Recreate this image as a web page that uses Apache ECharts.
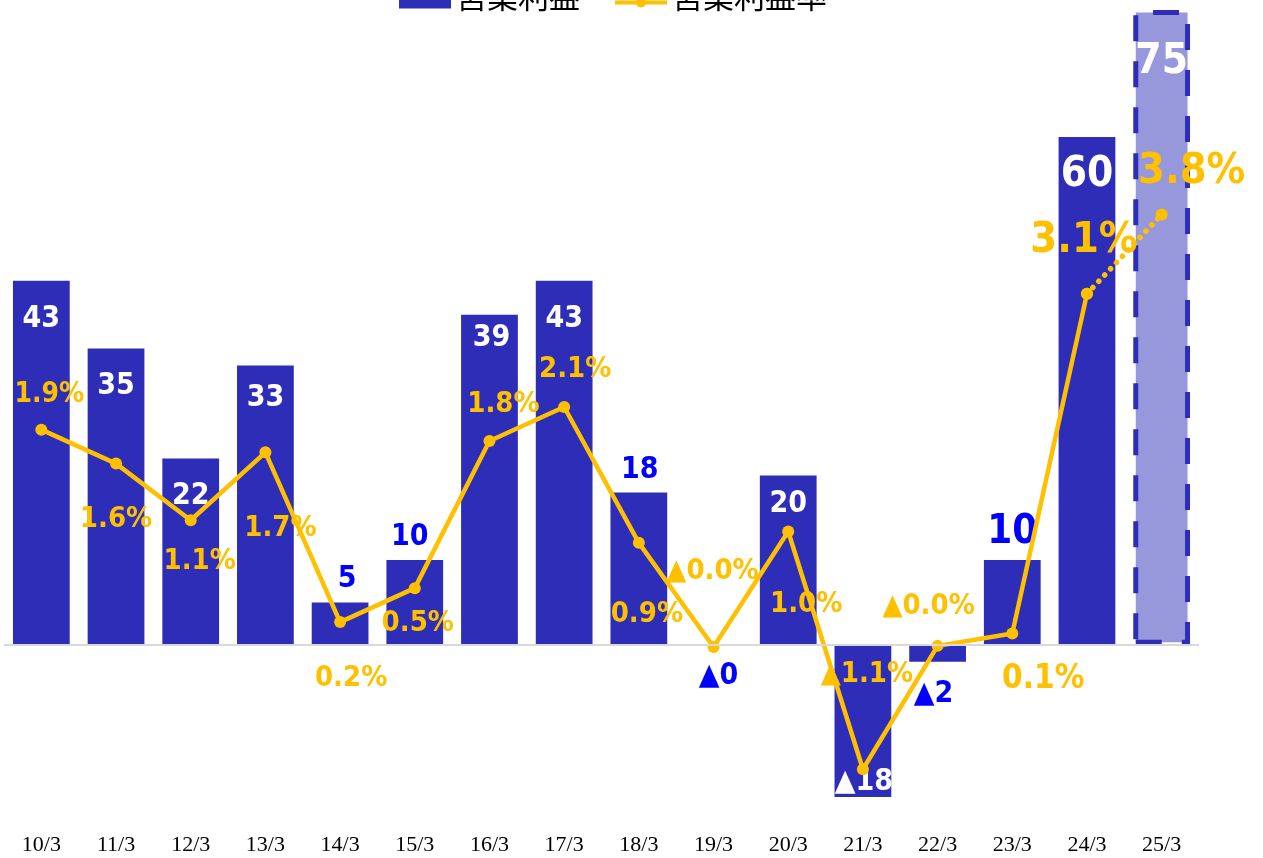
<!DOCTYPE html>
<html><head><meta charset="utf-8">
<script src="https://cdn.jsdelivr.net/npm/echarts@6/dist/echarts.min.js"></script>
<style>html,body{margin:0;padding:0;background:#fff;}#c{width:1263px;height:858px;}</style>
</head><body><div id="c"></div>
<script>
// ---- data ----
const categories = ['10/3','11/3','12/3','13/3','14/3','15/3','16/3','17/3','18/3','19/3','20/3','21/3','22/3','23/3','24/3','25/3'];
const operatingProfit = [43,35,22,33,5,10,39,43,18,-0.1,20,-18,-2,10,60,75];
const operatingMargin = [1.9,1.6,1.1,1.7,0.2,0.5,1.8,2.1,0.9,-0.02,1.0,-1.1,-0.01,0.1,3.1,3.8];
const seriesNames = ['営業利益','営業利益率'];

// ---- styling / label layout (not data) ----
const BAR = '#2E2DB8', BAR_FC = '#9797DC', GOLD = '#FFC000', BLUE = '#0000FF';
const LFONT = '"DejaVu Sans Condensed","DejaVu Sans",sans-serif';
// [position, dx, dy, color, fontSize]
const barLabelLayout = [
  ['insideTop',0,18,'#fff',30],['insideTop',0,18,'#fff',30],['insideTop',0,18,'#fff',30],['insideTop',0,13,'#fff',30],
  ['outside',7,-3,BLUE,30],['outside',-5,-3,BLUE,30],['insideTop',2,4,'#fff',30],['insideTop',0,18,'#fff',30],
  ['outside',1,-2,BLUE,30],['outside',5,11,BLUE,30],['insideTop',0,9,'#fff',30],['insideBottom',1,5,'#fff',30],
  ['outside',-4,13,BLUE,30],['outside',0,-2,BLUE,40],['insideTop',0,12,'#fff',42],['insideTop',0,26,'#fff',42]
];
// [dx, dy, fontSize]
const lineLabelLayout = [
  [8,-35,28],[0,56,29],[9,41,29],[15,76,29],[11,56,29],[3,35,29],[14,-37,29],[11,-38,29],
  [8,72,29],[-1,-76,29],[18,73,29],[4,-95,29],[-9,-39,29],[31,46,33],[-3,-53,43],[30,-43,43]
];
// legend icon for the line series: line + dot placed low in its box (legend is cut by the top edge)
const lineLegendIcon = 'path://M0,0L0.01,0M52,24L51.99,24M0,16L52,16L52,20L0,20ZM31,18A5,5,0,1,1,21,18A5,5,0,1,1,31,18Z';

const pxPerUnit = 804/95;          // bar axis: -20..75 over grid height
const pxPerPct = 113.2;
const pctMin = -20*pxPerUnit/pxPerPct, pctMax = 75*pxPerUnit/pxPerPct;

const fmtBar = v => v < 0 ? '▲' + Math.round(-v) : String(Math.round(v));
const fmtPct = v => (v < 0 ? '▲' : '') + Math.abs(v).toFixed(1) + '%';

const last = categories.length - 1;
const barData = operatingProfit.map((v,i)=>{
  const L = barLabelLayout[i];
  const item = {value:v, label:{position:L[0], offset:[L[1],L[2]], color:L[3], fontSize:L[4]}};
  if (i === last) item.itemStyle = {color:BAR_FC, borderColor:BAR, borderWidth:5, borderType:[26,20]};
  return item;
});
const solidData = operatingMargin.map((v,i)=>{
  if (i === last) return '-';
  const L = lineLabelLayout[i];
  return {value:v, label:{offset:[L[0],L[1]], fontSize:L[2]}};
});
const dottedData = operatingMargin.map((v,i)=>{
  if (i < last-1) return '-';
  const L = lineLabelLayout[i];
  return {value:v, label:{show:i===last, offset:[L[0],L[1]], fontSize:L[2]}};
});

const chart = echarts.init(document.getElementById('c'), null, {renderer:'canvas'});
chart.setOption({
  animation:false,
  backgroundColor:'#fff',
  legend:{
    data:[{name:seriesNames[0], icon:'rect'}, {name:seriesNames[1], icon:lineLegendIcon}],
    left:394, top:-24, itemWidth:52, itemHeight:24, itemGap:35,
    textStyle:{fontSize:31, color:'#000', fontFamily:'"Noto Sans CJK JP",sans-serif', padding:[0,0,17,0]}
  },
  grid:{left:4, right:64, top:10, bottom:44, containLabel:false, outerBoundsMode:'none'},
  xAxis:{
    type:'category', data:categories, boundaryGap:true,
    axisLine:{show:false}, axisTick:{show:false}, splitLine:{show:false},
    axisLabel:{fontFamily:'"Liberation Serif",serif', fontSize:22, color:'#000', margin:20, interval:0}
  },
  yAxis:[
    {type:'value', min:-20, max:75, show:false, splitLine:{show:false}},
    {type:'value', min:pctMin, max:pctMax, show:false, splitLine:{show:false}}
  ],
  series:[
    {
      name:seriesNames[0], type:'bar', data:barData, barCategoryGap:'24%',
      itemStyle:{color:BAR},
      label:{show:true, fontFamily:LFONT, fontWeight:'bold', formatter:p=>fmtBar(p.value)},
      markLine:{silent:true, symbol:'none', z:5, label:{show:false},
        lineStyle:{color:'#D9D9D9', width:2, type:'solid'}, data:[{yAxis:0}]},
      z:2
    },
    {
      name:seriesNames[1], type:'line', yAxisIndex:1, data:solidData,
      symbol:'circle', symbolSize:12, color:GOLD,
      lineStyle:{color:GOLD, width:4.5}, itemStyle:{color:GOLD},
      label:{show:true, position:'inside', color:GOLD, fontFamily:LFONT, fontWeight:'bold', formatter:p=>fmtPct(p.value)},
      z:4
    },
    {
      name:'dotted', type:'line', yAxisIndex:1, data:dottedData,
      symbol:'circle', symbolSize:12, color:GOLD,
      lineStyle:{color:GOLD, width:5.5, type:[0.1,8.5], cap:'round'}, itemStyle:{color:GOLD},
      label:{show:true, position:'inside', color:GOLD, fontFamily:LFONT, fontWeight:'bold', formatter:p=>fmtPct(p.value)},
      z:4
    }
  ]
});
</script>
</body></html>
